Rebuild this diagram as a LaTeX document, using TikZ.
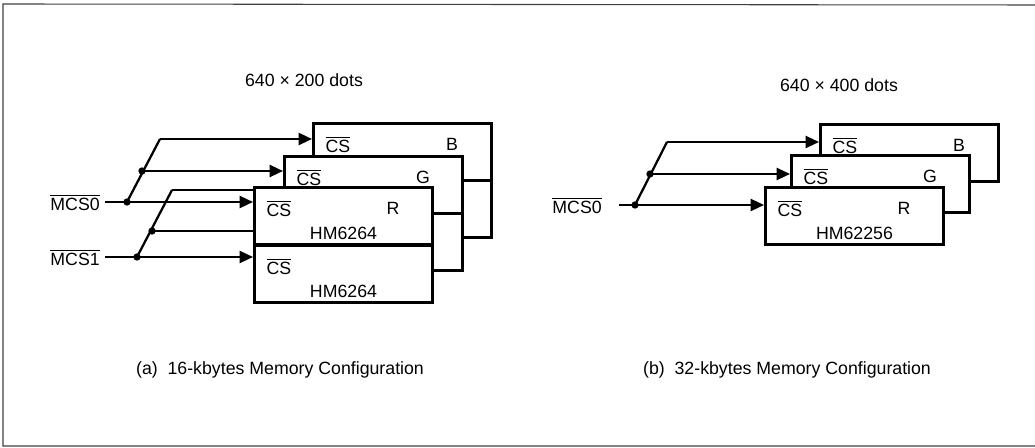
\documentclass[tikz,border=0pt]{standalone}
\usepackage{fontspec}
\setmainfont{Liberation Sans}
\usepackage{amsmath}
\usepackage{tikz}
\usetikzlibrary{arrows.meta,shapes}
\newcommand{\lw}{2.2pt}
\newcommand{\wlw}{1.7pt}
\newcommand{\csbar}{$\overline{\mbox{CS}}$}
\newcommand{\chip}[6]{%
    \node[chip, anchor=north west] (#1) at (#2,#3) {};
    \node[txt] (#1cs) at ([shift={(26,22)}]#1.north west) {#4};
    \node[txt] (#1col) at ([shift={(-41,22)}]#1.north east) {#5};
    \node[txt] (#1part) at ([shift={(0,47)}]#1.north) {#6};
}

\begin{document}
\begin{tikzpicture}[x=0.75pt, y=-0.75pt,
        txt/.style = {font=\fontsize{13.3}{15}\selectfont, inner sep=0pt},
        chip/.style = {draw, fill=white, line width=\lw, minimum width=178*0.75pt, minimum height=57*0.75pt, inner sep=0pt},
        wire/.style = {line width=\wlw},
        sig/.style = {wire, -{Triangle[length=10pt, width=9pt]}},
        jdot/.style = {circle, fill, inner sep=0pt, minimum size=5.5pt}]
                %\draw[help lines] (0,0) grid (1035,448);
                \useasboundingbox (0,0) rectangle (1035,448);
                \draw[line width=0.8pt, black!75] (1035,5) -- (3,4) -- (3,446) -- (1035,446);

                % (a) 16 kbytes
                \node[txt] (titleA) at (304,80) {640 × 200 dots};
                \chip{bB1}{312}{122}{\csbar}{B}{}
                \chip{bB2}{312}{179}{}{}{}
                \chip{gG1}{283}{155}{\csbar}{G}{}
                \chip{gG2}{283}{212}{}{}{}
                \node[txt, anchor=east] (mcs1) at (100,257) {$\overline{\mbox{MCS1}}$};
                \node[jdot] (k0) at (137,257) {};
                \node[jdot] (k1) at (152,231) {};
                \coordinate (k2) at (172,190);
                \draw[wire] (k1.center) -- (k1 -| gG2.west);
                \draw[wire] (k2) -- (k2 -| bB2.west);
                \chip{rR1}{253}{186}{\csbar}{R}{HM6264}
                \chip{rR2}{253}{244}{\csbar}{}{HM6264}
                \node[txt, anchor=east] (mcs0) at (100,202) {$\overline{\mbox{MCS0}}$};
                \node[jdot] (a0) at (127,202) {};
                \node[jdot] (a1) at (142,171) {};
                \coordinate (a2) at (160,139);
                \draw[sig] ([xshift=4pt]mcs0.east) -- (mcs0.east -| rR1.west);
                \draw[wire] (a0.center) -- (a2);
                \draw[sig] (a1.center) -- (a1 -| gG1.west);
                \draw[sig] (a2) -- (a2 -| bB1.west);
                \draw[sig] ([xshift=4pt]mcs1.east) -- (mcs1.east -| rR2.west);
                \draw[wire] (k0.center) -- (k2);
                \node[txt] (capA) at (280,370) {(a)\ \ 16-kbytes Memory Configuration};

                % (b) 32 kbytes
                \node[txt] (titleB) at (839,85) {640 × 400 dots};
                \chip{bB}{819}{123}{\csbar}{B}{}
                \chip{gG}{790}{154}{\csbar}{G}{}
                \chip{rR}{764}{186}{\csbar}{R}{HM62256}
                \node[txt, anchor=east] (mcsb) at (602,205) {$\overline{\mbox{MCS0}}$};
                \node[jdot] (c0) at (635,205) {};
                \node[jdot] (c1) at (650,174) {};
                \coordinate (c2) at (667,142);
                \draw[sig] ([xshift=13pt]mcsb.east) -- (mcsb.east -| rR.west);
                \draw[wire] (c0.center) -- (c2);
                \draw[sig] (c1.center) -- (c1 -| gG.west);
                \draw[sig] (c2) -- (c2 -| bB.west);
                \node[txt] (capB) at (787,370) {(b)\ \ 32-kbytes Memory Configuration};
\end{tikzpicture}
\end{document}
